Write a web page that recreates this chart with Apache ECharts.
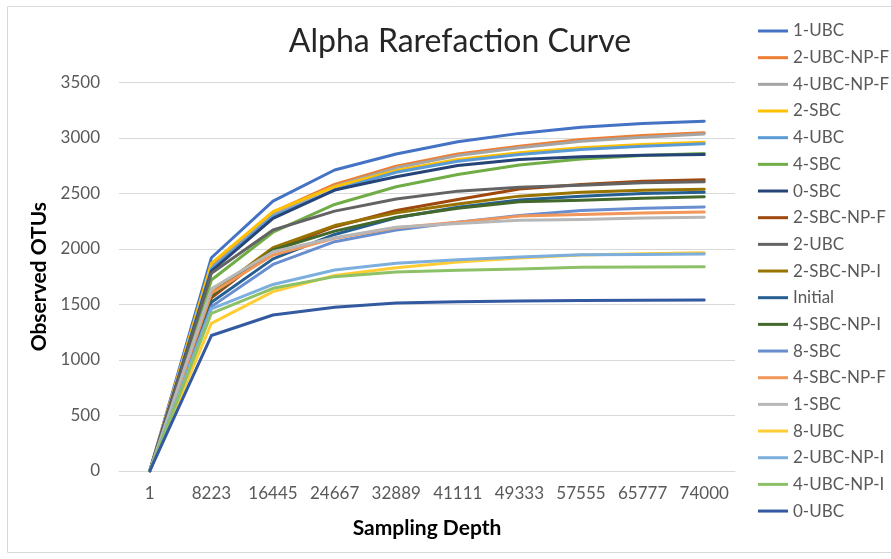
<!DOCTYPE html>
<html>
<head>
<meta charset="utf-8">
<script src="https://cdn.jsdelivr.net/npm/echarts@6/dist/echarts.min.js"></script>
<style>
html,body{margin:0;padding:0;background:#fff;}
#main{width:891px;height:559px;}
</style>
</head>
<body>
<div id="main"></div>
<script>
var categories = ['1','8223','16445','24667','32889','41111','49333','57555','65777','74000'];
var seriesNames = ['1-UBC','2-UBC-NP-F','4-UBC-NP-F','2-SBC','4-UBC','4-SBC','0-SBC','2-SBC-NP-F','2-UBC','2-SBC-NP-I','Initial','4-SBC-NP-I','8-SBC','4-SBC-NP-F','1-SBC','8-UBC','2-UBC-NP-I','4-UBC-NP-I','0-UBC'];
var v_1UBC    = [1, 1920, 2430, 2710, 2855, 2965, 3040, 3095, 3130, 3150];
var v_2UBCNPF = [1, 1850, 2330, 2580, 2745, 2855, 2925, 2985, 3020, 3045];
var v_4UBCNPF = [1, 1830, 2310, 2565, 2730, 2840, 2910, 2970, 3005, 3035];
var v_2SBC    = [1, 1870, 2335, 2560, 2705, 2805, 2865, 2910, 2940, 2960];
var v_4UBC    = [1, 1820, 2290, 2530, 2690, 2790, 2850, 2895, 2925, 2947];
var v_4SBC    = [1, 1720, 2150, 2400, 2560, 2670, 2755, 2810, 2840, 2858];
var v_0SBC    = [1, 1800, 2275, 2530, 2650, 2750, 2805, 2830, 2843, 2850];
var v_2SBCNPF = [1, 1560, 1990, 2200, 2345, 2445, 2540, 2580, 2610, 2623];
var v_2UBC    = [1, 1780, 2170, 2340, 2450, 2520, 2555, 2572, 2595, 2604];
var v_2SBCNPI = [1, 1600, 2010, 2210, 2325, 2405, 2475, 2510, 2528, 2537];
var v_Initial = [1, 1520, 1910, 2130, 2280, 2375, 2440, 2474, 2498, 2510];
var v_4SBCNPI = [1, 1580, 1990, 2160, 2285, 2365, 2425, 2438, 2456, 2469];
var v_8SBC    = [1, 1480, 1860, 2065, 2170, 2240, 2300, 2345, 2366, 2378];
var v_4SBCNPF = [1, 1600, 1945, 2095, 2190, 2240, 2295, 2309, 2324, 2333];
var v_1SBC    = [1, 1640, 1975, 2100, 2195, 2228, 2258, 2264, 2279, 2285];
var v_8UBC    = [1, 1330, 1615, 1760, 1830, 1882, 1918, 1945, 1957, 1966];
var v_2UBCNPI = [1, 1460, 1680, 1810, 1870, 1903, 1927, 1948, 1950, 1954];
var v_4UBCNPI = [1, 1420, 1645, 1750, 1792, 1807, 1819, 1834, 1837, 1840];
var v_0UBC    = [1, 1220, 1405, 1475, 1512, 1525, 1531, 1535, 1538, 1540];
var yTicks = [0, 500, 1000, 1500, 2000, 2500, 3000, 3500];

var allValues = [v_1UBC, v_2UBCNPF, v_4UBCNPF, v_2SBC, v_4UBC, v_4SBC, v_0SBC, v_2SBCNPF, v_2UBC, v_2SBCNPI, v_Initial, v_4SBCNPI, v_8SBC, v_4SBCNPF, v_1SBC, v_8UBC, v_2UBCNPI, v_4UBCNPI, v_0UBC];
var colors = ['#4472C4','#ED7D31','#A5A5A5','#FFC000','#5B9BD5','#70AD47','#264478','#9E480E','#636363','#997300','#255E91','#43682B','#698ED0','#F1975A','#B7B7B7','#FFCD33','#7CAFDD','#8CC168','#335AA1'];

var FONT = 'Lato';
var series = seriesNames.map(function(n, i){
  return {
    name: n, type: 'line', data: allValues[i], symbol: 'none', smooth: false,
    lineStyle: {width: 3, color: colors[i], cap: 'round', join: 'round'},
    itemStyle: {color: colors[i]}
  };
});

var chart = echarts.init(document.getElementById('main'), null, {renderer: 'canvas'});
chart.setOption({
  animation: false,
  color: colors,
  title: {
    text: 'Alpha Rarefaction Curve',
    left: 455, top: 21, textAlign: 'center',
    textStyle: {fontFamily: FONT, fontSize: 32, fontWeight: 'normal', color: '#262626'}
  },
  graphic: [{
    type: 'rect', silent: true, z: -10,
    shape: {x: 7.5, y: 6.5, width: 890, height: 546},
    style: {fill: 'none', stroke: '#d9d9d9', lineWidth: 1}
  }],
  legend: {
    orient: 'vertical', left: 753, top: 17,
    icon: 'rect', itemWidth: 30, itemHeight: 3, itemGap: 8.67,
    textStyle: {fontFamily: FONT, fontSize: 17, color: '#595959', lineHeight: 18},
    data: seriesNames
  },
  grid: {left: 119, right: 156, top: 82.3, bottom: 88, containLabel: false},
  xAxis: {
    type: 'category', data: categories, boundaryGap: true,
    name: 'Sampling Depth', nameLocation: 'middle', nameGap: 47,
    nameTextStyle: {fontFamily: FONT, fontSize: 21, fontWeight: 'bold', color: '#000'},
    axisLine: {lineStyle: {color: '#d9d9d9', width: 1}},
    axisTick: {show: false},
    axisLabel: {fontFamily: FONT, fontSize: 17, color: '#595959', margin: 14, interval: 0}
  },
  yAxis: {
    type: 'value', min: yTicks[0], max: yTicks[yTicks.length-1], interval: 500,
    name: 'Observed OTUs', nameLocation: 'middle', nameGap: 69,
    nameTextStyle: {fontFamily: FONT, fontSize: 21, fontWeight: 'bold', color: '#000'},
    axisLine: {show: false}, axisTick: {show: false},
    splitLine: {lineStyle: {color: '#d9d9d9', width: 1}},
    axisLabel: {fontFamily: FONT, fontSize: 17, color: '#595959', margin: 19,
      formatter: function(v){ return String(v); }}
  },
  series: series
});
</script>
</body>
</html>
